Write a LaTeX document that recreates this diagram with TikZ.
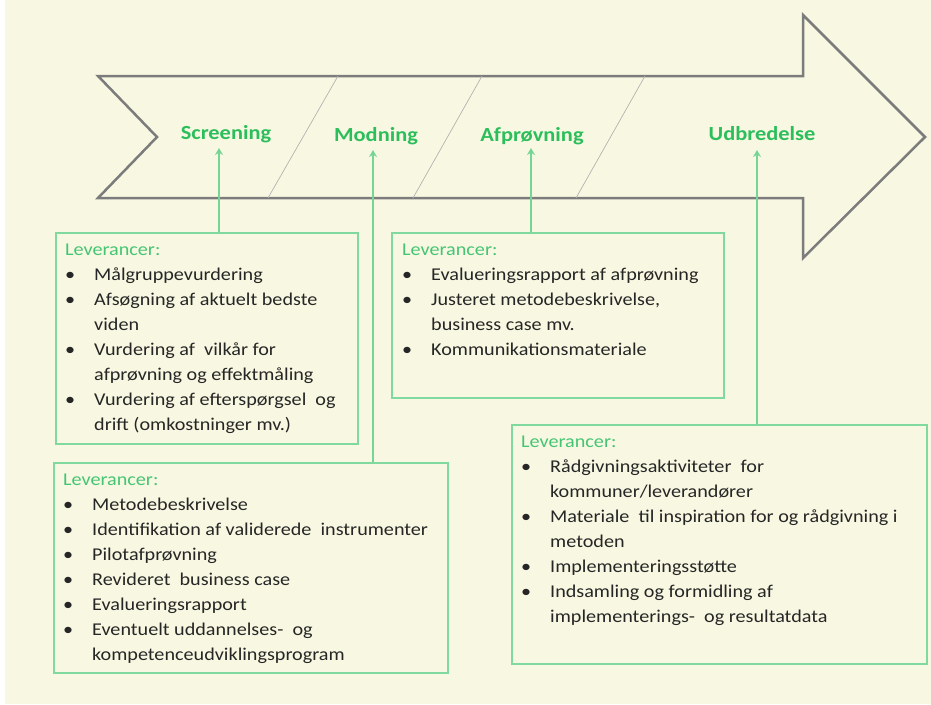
\documentclass[tikz,border=0pt]{standalone}
\usepackage{fontspec}
\setmainfont{Carlito}[FakeStretch=1.12]
\usetikzlibrary{arrows.meta, positioning}

\definecolor{cream}{HTML}{F8F8E2}
\definecolor{phasegreen}{HTML}{2DBE5C}
\definecolor{boxgreen}{HTML}{80D99E}
\definecolor{levgreen}{HTML}{45C574}
\definecolor{shaftgray}{HTML}{7C7C7C}

% bullet and hanging indent for the deliverable lists
\newcommand{\levbul}{\makebox[29pt][l]{\textbullet}}
\newcommand{\levind}{\hspace*{29pt}}
\newcommand{\levhead}{{\color{levgreen}Leverancer:}}

\begin{document}
\begin{tikzpicture}[
    x=1pt, y=-1pt,
    phase/.style={font=\fontsize{20}{24}\selectfont\bfseries, text=phasegreen, anchor=base, inner sep=0pt},
    levbox/.style={rectangle, draw=boxgreen, line width=2pt, fill=cream, anchor=north west, inner sep=0pt},
    levtxt/.style={align=left, inner sep=0pt, font=\fontsize{18}{25}\selectfont, text=black!85},
    arr/.style={-{Stealth[length=7pt,width=8pt]}, line width=2.5pt, boxgreen!85!phasegreen},
    sep/.style={gray!60, line width=0.7pt}
]
    \useasboundingbox (0,0) rectangle (931,704);
    \fill[cream] (5,0) rectangle (931,704);

    %% --- Process arrow ---
    \draw[shaftgray, line width=2.5pt, fill=cream]
        (98,76) -- (803,76) -- (803,15) -- (925,137) -- (803,258)
        -- (803,198) -- (98,198) -- (157,137) -- cycle;
    \draw[sep] (338,76) -- (268,198);
    \draw[sep] (482,76) -- (413,198);
    \draw[sep] (645,76) -- (576,198);

    %% --- Phases ---
    \node[phase] (scr) at (226,139) {Screening};
    \node[phase] (mod) at (376,141) {Modning};
    \node[phase] (afp) at (532,141) {Afprøvning};
    \node[phase] (udb) at (762,140) {Udbredelse};

    %% --- Deliverables ---
    \node[levbox, minimum width=302pt, minimum height=211pt] (b1) at (55,232) {};
    \node[levtxt, below right=12pt and 10pt of b1.north west] (t1) {%
        \levhead\\
        \levbul Målgruppevurdering\\
        \levbul Afsøgning af aktuelt bedste\\
        \levind viden\\
        \levbul Vurdering af\ \ vilkår for\\
        \levind afprøvning og effektmåling\\
        \levbul Vurdering af efterspørgsel\ \ og\\
        \levind drift (omkostninger mv.)};

    \node[levbox, minimum width=332pt, minimum height=165pt] (b2) at (391,232) {};
    \node[levtxt, below right=12pt and 11pt of b2.north west] (t2) {%
        \levhead\\
        \levbul Evalueringsrapport af afprøvning\\
        \levbul Justeret metodebeskrivelse,\\
        \levind business case mv.\\
        \levbul Kommunikationsmateriale};

    \node[levbox, minimum width=394pt, minimum height=210pt] (b3) at (53,462) {};
    \node[levtxt, below right=12pt and 10pt of b3.north west] (t3) {%
        \levhead\\
        \levbul Metodebeskrivelse\\
        \levbul Identifikation af validerede\ \ instrumenter\\
        \levbul Pilotafprøvning\\
        \levbul Revideret\ \ business case\\
        \levbul Evalueringsrapport\\
        \levbul Eventuelt uddannelses-\ \ og\\
        \levind kompetenceudviklingsprogram};

    \node[levbox, minimum width=415pt, minimum height=239pt] (b4) at (511,424) {};
    \node[levtxt, below right=12pt and 10pt of b4.north west] (t4) {%
        \levhead\\
        \levbul Rådgivningsaktiviteter\ \ for\\
        \levind kommuner/leverandører\\
        \levbul Materiale\ \ til inspiration for og rådgivning i\\
        \levind metoden\\
        \levbul Implementeringsstøtte\\
        \levbul Indsamling og formidling af\\
        \levind implementerings-\ \ og resultatdata};

    %% --- Arrows ---
    \coordinate (scrtip) at (219,148);
    \coordinate (modtip) at (373,150);
    \coordinate (afptip) at (531,148);
    \coordinate (udbtip) at (757,150);
    \draw[arr] (b1.north -| scrtip) -- (scrtip);
    \draw[arr] (b3.north -| modtip) -- (modtip);
    \draw[arr] (b2.north -| afptip) -- (afptip);
    \draw[arr] (b4.north -| udbtip) -- (udbtip);
\end{tikzpicture}
\end{document}
